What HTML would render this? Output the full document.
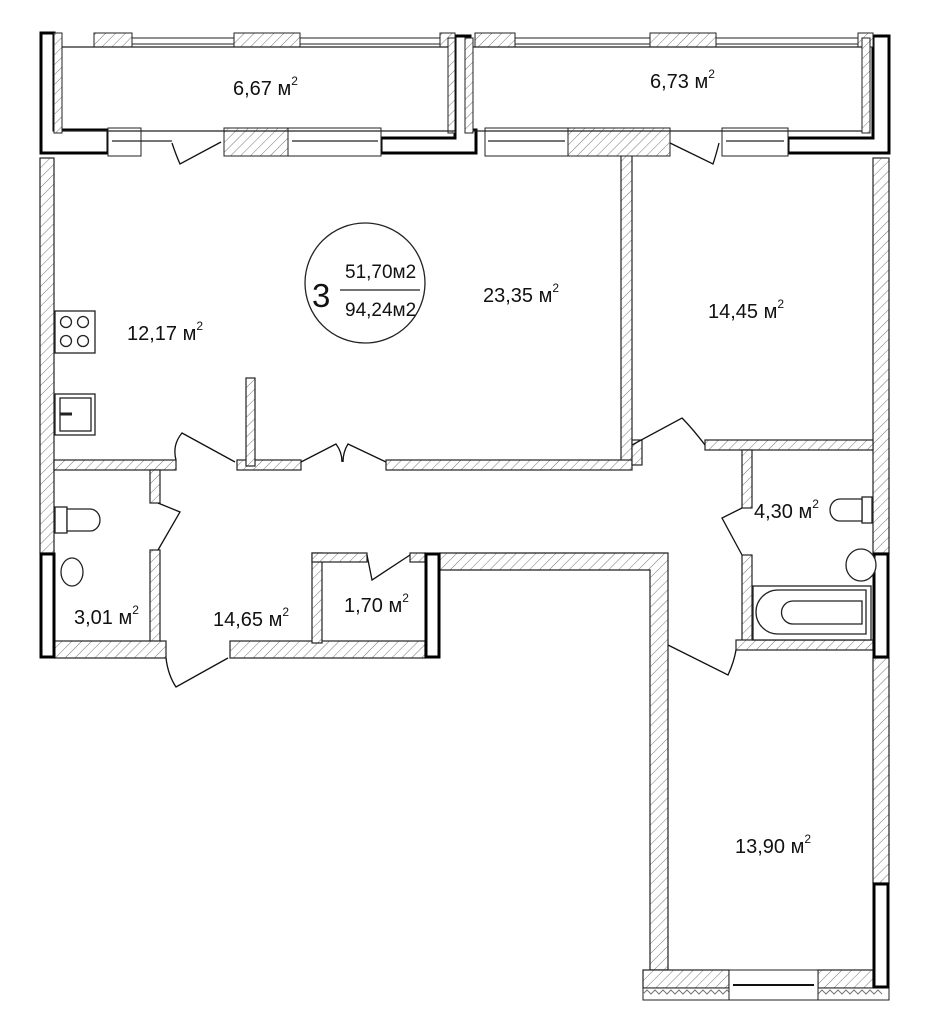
<!DOCTYPE html>
<html><head><meta charset="utf-8"><style>
html,body{margin:0;padding:0;background:#fff;width:940px;height:1024px;overflow:hidden}
svg{display:block}
text{font-family:"Liberation Sans",sans-serif;fill:#111}
</style></head><body>
<svg width="940" height="1024" viewBox="0 0 940 1024" xmlns="http://www.w3.org/2000/svg">
<defs>
<pattern id="h" width="7" height="7" patternUnits="userSpaceOnUse" patternTransform="rotate(45)">
<rect width="7" height="7" fill="#fff"/><line x1="0" y1="0" x2="0" y2="7" stroke="#777" stroke-width="1"/>
</pattern>
</defs>
<g stroke="#222" stroke-width="1.2" fill="url(#h)">
<rect x="40" y="158" width="14" height="395"/>
<rect x="873" y="158" width="16" height="395"/>
<rect x="873" y="658" width="16" height="225"/>
<rect x="621" y="155" width="11" height="310"/>
<rect x="54" y="460" width="122" height="10"/>
<rect x="237" y="460" width="64" height="10"/>
<rect x="386" y="460" width="246" height="10"/>
<rect x="246" y="378" width="9" height="88"/>
<rect x="632" y="440" width="10" height="25"/>
<rect x="705" y="440" width="168" height="10"/>
<rect x="742" y="450" width="10" height="58"/>
<rect x="742" y="555" width="10" height="90"/>
<rect x="736" y="640" width="137" height="10"/>
<rect x="150" y="470" width="10" height="33"/>
<rect x="150" y="550" width="10" height="95"/>
<rect x="54" y="641" width="112" height="17"/>
<rect x="230" y="641" width="195" height="17"/>
<rect x="312" y="553" width="10" height="90"/>
<rect x="312" y="553" width="55" height="9"/>
<rect x="410" y="553" width="15" height="9"/>
<path d="M440 553 H668 V970 H650 V570 H440 Z"/>
<rect x="643" y="970" width="86" height="18"/>
<rect x="818" y="970" width="55" height="18"/>
</g>
<rect x="643" y="988" width="246" height="12" fill="#fff" stroke="#222"/>
<path d="M643 994 l4 -4 l4 4 l4 -4 l4 4 l4 -4 l4 4 l4 -4 l4 4 l4 -4 l4 4 l4 -4 l4 4 l4 -4 l4 4 l4 -4 l4 4 l4 -4 l4 4 l4 -4 l4 4 l4 -4 l4 4" fill="none" stroke="#777"/>
<path d="M818 994 l4 -4 l4 4 l4 -4 l4 4 l4 -4 l4 4 l4 -4 l4 4 l4 -4 l4 4 l4 -4 l4 4 l4 -4 l4 4 l4 -4 l4 4" fill="none" stroke="#777"/>
<rect x="729" y="970" width="89" height="30" fill="#fff" stroke="#222"/>
<line x1="733" y1="985" x2="814" y2="985" stroke="#111" stroke-width="2"/>
<g fill="#fff" stroke="#000" stroke-width="3">
<rect x="41" y="554" width="13" height="103"/>
<rect x="426" y="554" width="13" height="103"/>
<rect x="874" y="554" width="14" height="103"/>
<rect x="874" y="884" width="14" height="103"/>
</g>
<g fill="#fff" stroke="#000" stroke-width="3">
<path d="M41 33 H54 V130 H108 V153 H41 Z"/>
<path d="M455 36 H470 V130 H476 V153 H381 V138 H455 Z" />
<path d="M873 36 H889 V153 H788 V138 H873 Z"/>
</g>
<g stroke="#222" stroke-width="1" fill="url(#h)">
<rect x="54" y="33" width="8" height="100"/>
<rect x="94" y="33" width="38" height="14"/>
<rect x="234" y="33" width="66" height="14"/>
<rect x="440" y="33" width="15" height="14"/>
<rect x="475" y="33" width="40" height="14"/>
<rect x="650" y="33" width="66" height="14"/>
<rect x="858" y="33" width="15" height="14"/>
<rect x="224" y="128" width="64" height="28"/>
<rect x="568" y="128" width="102" height="28"/>
<rect x="465" y="38" width="8" height="95"/>
<rect x="862" y="38" width="8" height="95"/>
<rect x="448" y="38" width="7" height="95"/>
</g>
<g stroke="#222" fill="#fff" stroke-width="1">
<rect x="132" y="38" width="102" height="6"/><rect x="300" y="38" width="140" height="6"/>
<rect x="515" y="38" width="135" height="6"/><rect x="716" y="38" width="142" height="6"/>
<rect x="108" y="128" width="33" height="28"/><rect x="288" y="128" width="93" height="28"/>
<rect x="485" y="128" width="83" height="28"/><rect x="722" y="128" width="66" height="28"/>
</g>
<g stroke="#222" stroke-width="1.2" fill="none">
<line x1="62" y1="131" x2="455" y2="131"/><line x1="473" y1="131" x2="862" y2="131"/>
<line x1="62" y1="47" x2="448" y2="47"/><line x1="473" y1="47" x2="862" y2="47"/>
<line x1="112" y1="141" x2="172" y2="141"/><line x1="292" y1="141" x2="378" y2="141"/>
<line x1="488" y1="141" x2="565" y2="141"/><line x1="726" y1="141" x2="784" y2="141"/>
</g>
<g stroke="#111" stroke-width="1.3" fill="none">
<path d="M172 143 Q176 155 180 164 L221 142"/>
<path d="M670 143 L713 164 Q716 155 719 143"/>
<path d="M176 460 Q172 445 182 433 L235 462"/>
<path d="M301 462 L336 444 Q342 452 342 462 M386 462 L348 444 Q343 452 343 462"/>
<path d="M632 445 L682 418 Q692 428 705 445"/>
<path d="M158 503 L180 512 L158 550"/>
<path d="M742 508 L722 518 L742 555"/>
<path d="M367 555 L372 580 L410 555"/>
<path d="M166 658 Q168 675 176 687 L228 658"/>
<path d="M668 645 L728 675 Q734 662 736 650"/>
</g>
<g stroke="#222" stroke-width="1.3" fill="#fff">
<rect x="55" y="311" width="40" height="42"/>
<circle cx="66" cy="322" r="5.5"/><circle cx="83" cy="322" r="5.5"/>
<circle cx="66" cy="341" r="5.5"/><circle cx="83" cy="341" r="5.5"/>
<rect x="55" y="394" width="40" height="41"/><rect x="60" y="398" width="31" height="33"/>
<line x1="60" y1="414" x2="72" y2="414" stroke-width="3"/>
<rect x="55" y="507" width="12" height="26"/>
<path d="M67 509 H90 A10 11 0 0 1 90 531 H67 Z"/>
<ellipse cx="72" cy="572" rx="11" ry="14"/>
<rect x="862" y="497" width="10" height="26"/>
<path d="M862 499 H840 A10 11 0 0 0 840 521 H862 Z"/>
<ellipse cx="861" cy="565" rx="15" ry="16"/>
<rect x="753" y="586" width="118" height="54"/>
<path d="M778 590 H866 V634 H778 A22 22 0 0 1 778 590 Z"/>
<path d="M793 601 H862 V624 H793 A11.5 11.5 0 0 1 793 601 Z"/>
</g>
<circle cx="365" cy="283" r="60" fill="none" stroke="#222" stroke-width="1.3"/>
<line x1="340" y1="290" x2="420" y2="290" stroke="#222" stroke-width="1.2"/>
<text x="312" y="307" font-size="33">3</text>
<text x="345" y="278" font-size="19">51,70м2</text>
<text x="345" y="316" font-size="19">94,24м2</text>
<g font-size="20">
<text x="233" y="95">6,67 м<tspan font-size="12" dy="-10">2</tspan></text>
<text x="650" y="88">6,73 м<tspan font-size="12" dy="-10">2</tspan></text>
<text x="483" y="302">23,35 м<tspan font-size="12" dy="-10">2</tspan></text>
<text x="127" y="340">12,17 м<tspan font-size="12" dy="-10">2</tspan></text>
<text x="708" y="318">14,45 м<tspan font-size="12" dy="-10">2</tspan></text>
<text x="754" y="518">4,30 м<tspan font-size="12" dy="-10">2</tspan></text>
<text x="74" y="624">3,01 м<tspan font-size="12" dy="-10">2</tspan></text>
<text x="213" y="626">14,65 м<tspan font-size="12" dy="-10">2</tspan></text>
<text x="344" y="612">1,70 м<tspan font-size="12" dy="-10">2</tspan></text>
<text x="735" y="853">13,90 м<tspan font-size="12" dy="-10">2</tspan></text>
</g>
</svg>
</body></html>
